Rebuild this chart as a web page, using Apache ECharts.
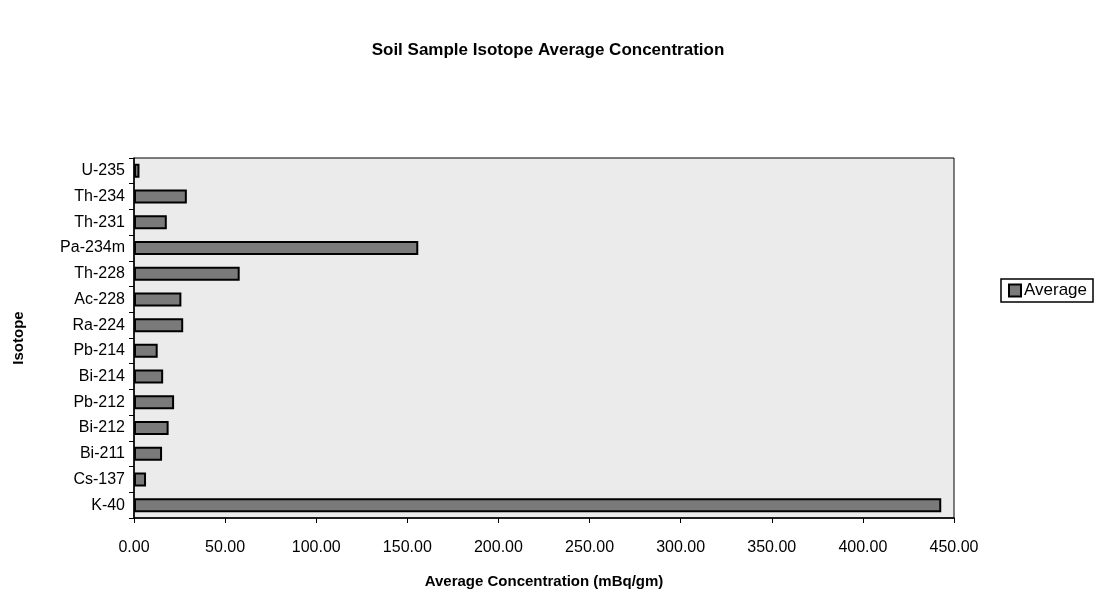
<!DOCTYPE html>
<html><head><meta charset="utf-8">
<script src="https://cdn.jsdelivr.net/npm/echarts@6/dist/echarts.min.js"></script>
<style>html,body{margin:0;padding:0;background:#fff}#c{width:1102px;height:598px}</style>
</head><body><div id="c"></div>
<script>
const categories = ['K-40','Cs-137','Bi-211','Bi-212','Pb-212','Bi-214','Pb-214','Ra-224','Ac-228','Th-228','Pa-234m','Th-231','Th-234','U-235'];
const averages = [443, 6.6, 15.4, 19, 22, 16, 13, 27, 26, 58, 156, 18, 29, 3];
const xTicks = {min: 0, max: 450, interval: 50};

const chart = echarts.init(document.getElementById('c'));
chart.setOption({
  backgroundColor: '#fff',
  animation: false,
  textStyle: {fontFamily: 'Liberation Sans, Arial, sans-serif'},
  title: {
    text: 'Soil Sample Isotope Average Concentration',
    left: 543, top: 37, textAlign: 'center',
    textStyle: {fontSize: 17, fontWeight: 'bold', color: '#000'}
  },
  legend: {
    data: [{name: 'Average', icon: 'rect'}], left: 1001, top: 279,
    itemWidth: 12, itemHeight: 12, itemGap: 4,
    padding: [3, 6, 3, 7],
    borderColor: '#000', borderWidth: 1.5,
    textStyle: {fontSize: 17, color: '#000', padding: [0,0,0,-2]}
  },
  grid: {left: 134, right: 148, top: 158, bottom: 80, show: true, backgroundColor: '#ebebeb', borderColor: '#000', borderWidth: 1},
  xAxis: {
    type: 'value', min: xTicks.min, max: xTicks.max, interval: xTicks.interval,
    name: 'Average Concentration (mBq/gm)', nameLocation: 'middle', nameGap: 56,
    nameTextStyle: {fontSize: 15, fontWeight: 'bold', color: '#000'},
    axisLine: {show: true, lineStyle: {color: '#000', width: 1.5}},
    axisTick: {show: true, length: 5, lineStyle: {color: '#000'}},
    axisLabel: {fontSize: 16, color: '#000', margin: 22, formatter: v => v.toFixed(2)},
    splitLine: {show: false}
  },
  yAxis: {
    type: 'category', data: categories,
    name: 'Isotope', nameLocation: 'middle', nameGap: 108, nameRotate: 90,
    nameTextStyle: {fontSize: 15, fontWeight: 'bold', color: '#000'},
    axisLine: {show: true, lineStyle: {color: '#000', width: 1.5}},
    axisTick: {show: true, length: 5, lineStyle: {color: '#000'}},
    axisLabel: {fontSize: 16, color: '#000', margin: 9}
  },
  series: [{
    name: 'Average', type: 'bar', data: averages,
    barWidth: 14,
    itemStyle: {color: '#7a7a7a', borderColor: '#000', borderWidth: 2}
  }]
});
</script></body></html>
